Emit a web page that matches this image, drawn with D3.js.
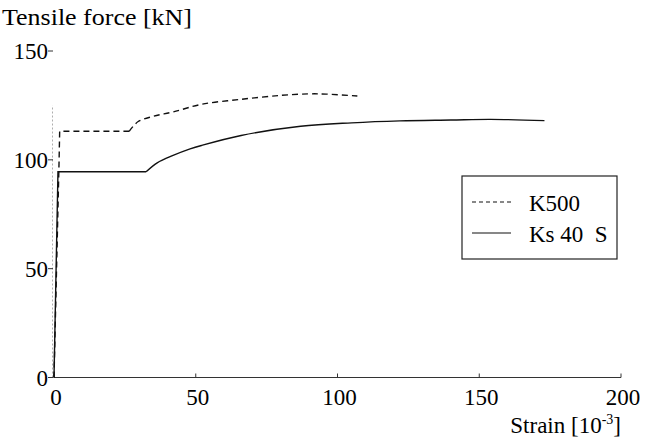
<!DOCTYPE html>
<html>
<head>
<meta charset="utf-8">
<script src="https://cdn.jsdelivr.net/npm/d3@7"></script>
</head>
<body style="margin:0">
<div id="container"></div>
<script>
// data: strain [10^-3], force [kN]
const k500Strain = [0, 1.8, 2, 26.5, 29.7, 35, 42, 52, 66, 80, 90, 96, 107]
const k500Force  = [0, 100, 113.1, 113.1, 117.6, 120, 122, 125.5, 127.8, 129.6, 130.3, 130.2, 129.3]
const ksStrain = [0, 1.4, 1.5, 32.5, 36.4, 42, 48, 52, 66, 87, 105, 122, 140, 154, 173]
const ksForce  = [0, 94.5, 94.5, 94.5, 98.6, 102, 105, 106.6, 111.2, 115.4, 117, 117.9, 118.3, 118.6, 118]
const xTicks = [0, 50, 100, 150, 200]
const yTicks = [0, 50, 100, 150]
const legendLabels = ["K500", "Ks 40  S"]

const width = 647, height = 444
const serif = '"Liberation Serif"'
const svg = d3.select("#container").append("svg")
              .attr("width", width)
              .attr("height", height)

// scales
const x = d3.scaleLinear().domain([0, 200]).range([54, 621])
const y = d3.scaleLinear().domain([0, 150]).range([377.5, 51])

// x axis line + ticks
svg.append("line")
   .attr("x1", x(0)).attr("x2", x(200))
   .attr("y1", y(0)).attr("y2", y(0))
   .attr("stroke", "#333").attr("stroke-width", 1.2)
svg.selectAll(".xtick")
   .data(xTicks)
   .join("line")
   .attr("x1", d => x(d)).attr("x2", d => x(d))
   .attr("y1", y(0)).attr("y2", y(0) - 4)
   .attr("stroke", "#333")
svg.selectAll(".xlabel")
   .data(xTicks)
   .join("text")
   .attr("x", d => x(d) + 2)
   .attr("y", 405)
   .attr("text-anchor", "middle")
   .style("font-family", serif, "important")
   .attr("font-size", "23px")
   .text(d => d)

// y axis: faint dotted line
svg.append("line")
   .attr("x1", x(0) - 1.5).attr("x2", x(0) - 1.5)
   .attr("y1", y(0)).attr("y2", y(125))
   .attr("stroke", "#999").attr("stroke-width", 0.8)
   .attr("stroke-dasharray", "2,2")
svg.selectAll(".ytick")
   .data(yTicks)
   .join("line")
   .attr("x1", x(0) - 6).attr("x2", x(0) - 1)
   .attr("y1", d => y(d)).attr("y2", d => y(d))
   .attr("stroke", "#333")
svg.selectAll(".ylabel")
   .data(yTicks)
   .join("text")
   .attr("x", x(0) - 6)
   .attr("y", d => y(d) + 8)
   .attr("text-anchor", "end")
   .style("font-family", serif, "important")
   .attr("font-size", "23px")
   .text(d => d)

// axis titles
svg.append("text")
   .attr("x", 2).attr("y", 25)
   .style("font-family", serif, "important")
   .attr("font-size", "23px")
   .attr("textLength", 190)
   .attr("lengthAdjust", "spacingAndGlyphs")
   .text("Tensile force [kN]")
const xt = svg.append("text")
   .attr("x", 621).attr("y", 433)
   .attr("text-anchor", "end")
   .style("font-family", serif, "important")
   .attr("font-size", "23px")
xt.append("tspan").text("Strain [10")
xt.append("tspan").attr("dy", -9).attr("font-size", "14px").text("-3")
xt.append("tspan").attr("dy", 9).text("]")

// curves
const lineLin = d3.line().x(d => x(d[0])).y(d => y(d[1]))
const lineSmooth = d3.line().x(d => x(d[0])).y(d => y(d[1])).curve(d3.curveCatmullRom)
const k500 = k500Strain.map((s, i) => [s, k500Force[i]])
const ks = ksStrain.map((s, i) => [s, ksForce[i]])

function drawCurve(pts, dash) {
  // vertical and flat parts straight, hardening part smooth
  const split = pts.findIndex((p, i) => i > 2 && p[1] > pts[2][1])
  svg.append("path")
     .attr("d", lineLin(pts.slice(0, split)))
     .attr("fill", "none").attr("stroke", "#111").attr("stroke-width", 1.4)
     .attr("stroke-dasharray", dash)
  svg.append("path")
     .attr("d", lineSmooth(pts.slice(split - 1)))
     .attr("fill", "none").attr("stroke", "#111").attr("stroke-width", 1.4)
     .attr("stroke-dasharray", dash)
}
drawCurve(k500, "6,4")
drawCurve(ks, null)

// legend
svg.append("rect")
   .attr("x", 462).attr("y", 176)
   .attr("width", 155).attr("height", 83)
   .attr("fill", "#fff").attr("stroke", "#222").attr("stroke-width", 1.2)
const legendDash = ["4,3", null]
legendLabels.forEach((lab, i) => {
  svg.append("line")
     .attr("x1", 472).attr("x2", 511)
     .attr("y1", 202 + i * 31).attr("y2", 202 + i * 31)
     .attr("stroke", "#111").attr("stroke-width", 1.1)
     .attr("stroke-dasharray", legendDash[i])
  svg.append("text")
     .attr("x", 529).attr("y", 211 + i * 31)
     .style("font-family", serif, "important")
     .style("white-space", "pre")
     .attr("font-size", "23px")
     .text(lab)
})
</script>
</body>
</html>
